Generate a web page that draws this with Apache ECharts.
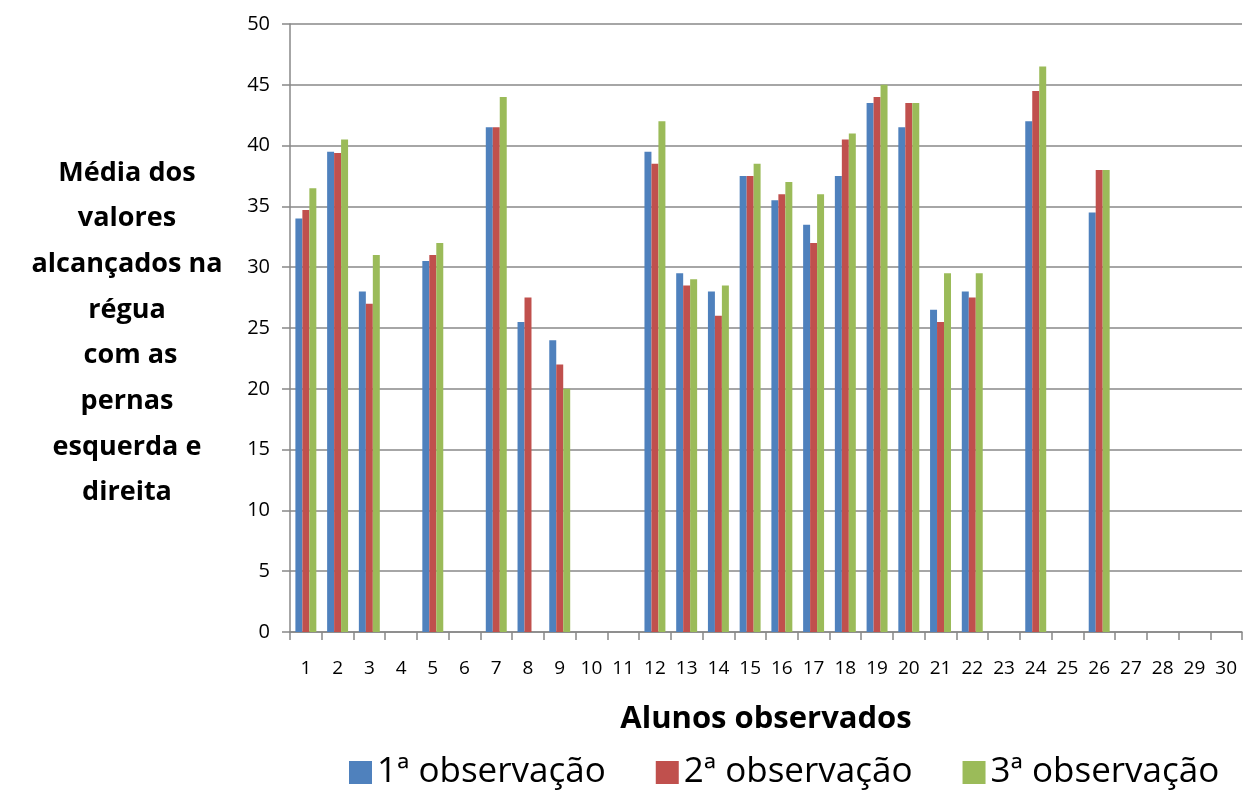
<!DOCTYPE html>
<html><head><meta charset="utf-8">
<script src="https://cdn.jsdelivr.net/npm/echarts@6/dist/echarts.min.js"></script>
<style>html,body{margin:0;padding:0;background:#fff}#c{width:1244px;height:792px}</style>
</head><body><div id="c"></div>
<script>
const categories = ['1','2','3','4','5','6','7','8','9','10','11','12','13','14','15','16','17','18','19','20','21','22','23','24','25','26','27','28','29','30'];
const obs1 = [34.0,39.5,28.0,null,30.5,null,41.5,25.5,24.0,null,null,39.5,29.5,28.0,37.5,35.5,33.5,37.5,43.5,41.5,26.5,28.0,null,42.0,null,34.5,null,null,null,null];
const obs2 = [34.7,39.4,27.0,null,31.0,null,41.5,27.5,22.0,null,null,38.5,28.5,26.0,37.5,36.0,32.0,40.5,44.0,43.5,25.5,27.5,null,44.5,null,38.0,null,null,null,null];
const obs3 = [36.5,40.5,31.0,null,32.0,null,44.0,null,20.0,null,null,42.0,29.0,28.5,38.5,37.0,36.0,41.0,45.0,43.5,29.5,29.5,null,46.5,null,38.0,null,null,null,null];
const seriesNames = ['1ª observação','2ª observação','3ª observação'];
const colors = ['#4F81BD','#C0504D','#9BBB59'];
const yTitleLines = ['Média dos','valores','alcançados na','régua',' com as','pernas','esquerda e','direita'];

const chart = echarts.init(document.getElementById('c'));
const font = 'Open Sans, Noto Sans, sans-serif';
chart.setOption({
  animation:false,
  color: colors,
  grid:{left:290,right:2,top:24,bottom:160},
  legend:{
    bottom:-3, left:344, itemWidth:23, itemHeight:23, itemGap:50,
    icon:'rect',
    textStyle:{fontSize:35,fontFamily:font,color:'#000'},
    data:seriesNames
  },
  graphic:[{
    type:'text', x:127, y:150,
    style:{text:yTitleLines.join('\n'), textAlign:'center', fontSize:27, fontWeight:'bold',
      fontFamily:font, lineHeight:45.7, fill:'#000'}
  }],
  xAxis:{
    type:'category', data:categories,
    name:'Alunos observados', nameLocation:'middle', nameGap:72,
    nameTextStyle:{fontSize:31,fontWeight:'bold',fontFamily:font,color:'#000'},
    axisLine:{lineStyle:{color:'#888',width:1.5}},
    axisTick:{show:true,length:8,lineStyle:{color:'#888',width:1.5}},
    axisLabel:{interval:0,fontSize:19,fontFamily:font,color:'#000',margin:27}
  },
  yAxis:{
    type:'value', min:0, max:50, interval:5,
    axisLine:{show:true,lineStyle:{color:'#888',width:1.5}},
    axisTick:{show:true,length:8,lineStyle:{color:'#888',width:1.5}},
    axisLabel:{fontSize:20,fontFamily:font,color:'#000',margin:20},
    splitLine:{lineStyle:{color:'#888',width:1.5}}
  },
  series:[obs1,obs2,obs3].map((d,i)=>({
    name:seriesNames[i], type:'bar', data:d, barGap:'0%', barCategoryGap:'34%'
  }))
});
</script></body></html>
